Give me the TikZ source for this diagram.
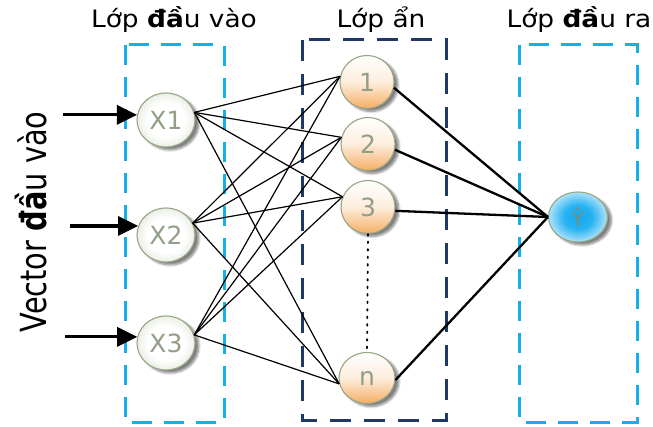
\documentclass[tikz,border=0pt]{standalone}
\usepackage{fontspec}
\setmainfont{DejaVu Sans}
\newfontfamily\widefont[FakeStretch=1.1]{DejaVu Sans}
\newfontfamily\narrowfont[FakeStretch=0.8]{DejaVu Sans}
\usetikzlibrary{shapes.geometric,arrows.meta,shadows.blur}
\definecolor{cyanbox}{RGB}{20,176,232}
\definecolor{navybox}{RGB}{31,56,100}
\definecolor{ringgreen}{RGB}{150,165,132}
\definecolor{labgreen}{RGB}{146,158,134}
\definecolor{ingreen}{RGB}{212,222,202}
\definecolor{hidorange}{RGB}{245,174,100}
\definecolor{outblue}{RGB}{16,170,240}
\definecolor{ygrey}{RGB}{130,140,120}
\pgfdeclareradialshading{inshade}{\pgfpoint{0bp}{0bp}}{color(0bp)=(white); color(16bp)=(white); color(35bp)=(ingreen); color(50bp)=(ingreen)}
\pgfdeclareradialshading{outshade}{\pgfpoint{0bp}{0bp}}{color(0bp)=(outblue); color(12bp)=(outblue!90); color(26bp)=(outblue!30); color(34bp)=(white); color(50bp)=(white)}
\begin{document}
\begin{tikzpicture}[x=1pt,y=-1pt,
  neuron/.style={ellipse, draw=ringgreen, line width=1.1pt, inner sep=0pt,
    text=labgreen, font=\fontsize{25}{25}\selectfont,
    blur shadow={shadow xshift=4pt, shadow yshift=-3pt, shadow blur steps=8, shadow opacity=50}},
  inneuron/.style={neuron, minimum width=58pt, minimum height=54pt, shading=inshade},
  hidneuron/.style={neuron, minimum width=54pt, minimum height=53pt,
    top color=white, bottom color=hidorange, middle color=hidorange!22},
  outneuron/.style={neuron, minimum width=59pt, minimum height=50pt,
    shading=outshade, text=ygrey, font=\fontsize{20}{20}\selectfont},
  inbox/.style={draw=cyanbox, line width=3pt, dash pattern=on 20pt off 12pt},
  hidbox/.style={draw=navybox, line width=3pt, dash pattern=on 21pt off 13pt},
  thinedge/.style={draw=black, line width=1.2pt},
  thickedge/.style={draw=black, line width=2.3pt},
  inarrow/.style={draw=black, line width=3.2pt, -{Triangle[length=20pt,width=19pt]}},
  dotline/.style={draw=black, line width=1.8pt, dash pattern=on 1.6pt off 5.9pt, line cap=round},
  title/.style={font=\widefont\fontsize{24}{24}\selectfont, anchor=base, inner sep=0pt}
]
\useasboundingbox (0,0) rectangle (653,427);

% layer boxes
\draw[inbox] (125,45) rectangle (224,422);
\draw[hidbox] (302,40) rectangle (446,420);
\draw[inbox] (519,45) rectangle (637,422);

% titles
\node[title] (t1) at (174,28) {Lớp {\bfseries đầ}u vào};
\node[title] (t2) at (381,28) {Lớp ẩn};
\node[title] (t3) at (579,28) {Lớp {\bfseries đầ}u ra};
\node[font=\narrowfont\fontsize{36}{36}\selectfont, anchor=base, inner sep=0pt, rotate=90] (vec) at (46,222) {Vector {\bfseries đầ}u vào};

% neurons
\node[inneuron] (X1) at (166,120) {X1};
\node[inneuron] (X2) at (166,235) {X2};
\node[inneuron] (X3) at (166,343) {X3};
\node[hidneuron] (H1) at (367,82) {1};
\node[hidneuron] (H2) at (368,144) {2};
\node[hidneuron] (H3) at (368,207) {3};
\node[hidneuron, minimum width=56pt, minimum height=51pt] (Hn) at (367,378) {n};
\node[outneuron] (Y) at (578,217) {Ŷ};

% input arrows
\coordinate (s1) at (63,115);
\coordinate (s2) at (70,225);
\coordinate (s3) at (65,337);
\draw[inarrow] (X1.170 -| s1) -- (X1.170);
\draw[inarrow] (X2.162 -| s2) -- (X2.162);
\draw[inarrow] (X3.168 -| s3) -- (X3.168);

% input -> hidden
\foreach \i/\b in {X1/15,X2/24,X3/16}{
  \foreach \h/\a in {H1/168,H2/166,H3/158,Hn/192}{
    \draw[thinedge] (\i.\b) -- (\h.\a);
  }
}

% hidden -> output
\draw[thickedge] (H1.348) -- (Y.180);
\draw[thickedge] (H2.348) -- (Y.180);
\draw[thickedge] (H3.352) -- (Y.180);
\draw[thickedge] (Hn.356) -- (Y.180);

% dotted continuation
\draw[dotline] (H3.south) -- (Hn.north);
\end{tikzpicture}
\end{document}
